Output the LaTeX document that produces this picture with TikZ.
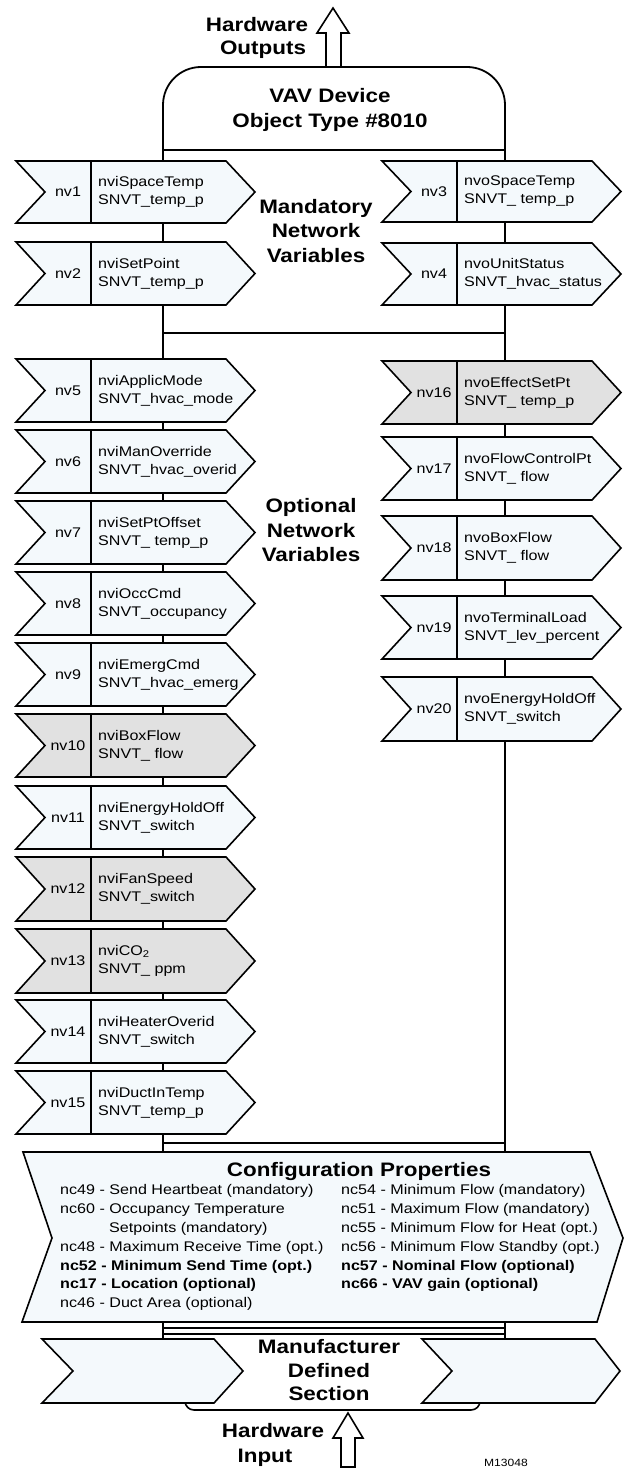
\documentclass[tikz,border=0pt]{standalone}
\usepackage{fontspec}
\setmainfont[FakeStretch=1.15]{Liberation Sans}
\definecolor{lite}{HTML}{F4F9FC}
\definecolor{gry}{HTML}{E1E1E1}
\tikzset{
  outl/.style={draw=black, line width=1.6pt, line join=miter},
  bus/.style={draw=black, line width=1.8pt},
  nvnum/.style={font=\fontsize{14}{17}\selectfont, inner sep=0pt},
  nvtxt/.style={font=\fontsize{14}{18}\selectfont, align=left, anchor=west, inner sep=0pt},
  bigt/.style={font=\bfseries\fontsize{19.5}{24}\selectfont, inner sep=0pt, anchor=base},
  cfgt/.style={font=\fontsize{14}{18}\selectfont, inner sep=0pt, anchor=base west},
  cfgb/.style={font=\bfseries\fontsize{14}{18}\selectfont, inner sep=0pt, anchor=base west},
  hollow/.style={draw=black, line width=1.6pt, fill=white, line join=miter},
}
\newcommand\nvshape[8]{%
  \pgfmathsetmacro\nvym{(#3+#4)/2}%
  \path[outl, fill=#5] (#2,#3) -- (#2+210,#3) -- (#2+239,\nvym) -- (#2+210,#4) -- (#2,#4) -- (#2+29,\nvym) -- cycle;
  \draw[outl] (#2+75,#3) -- (#2+75,#4);
  \node[nvnum] (#1n) at (#2+52,\nvym) {#6};
  \node[nvtxt] (#1) at (#2+82,\nvym) {#7\\#8};
}
\begin{document}
\begin{tikzpicture}[x=1pt,y=-1pt]
\fill[white] (0,0) rectangle (633,1474);
\useasboundingbox (0,0) rectangle (633,1474);

% hardware output arrow
\path[hollow] (326,68) -- (326,33) -- (317,33) -- (333,8) -- (349,33) -- (341,33) -- (341,68);
\node[bigt] (hwo1) at (257,32) {Hardware};
\node[bigt] (hwo2) at (263,55) {Outputs};

% header box
\draw[bus, rounded corners=38] (163,160) -- (163,67) -- (505,67) -- (505,160);
\node[bigt] (vav1) at (330,103) {VAV Device};
\node[bigt] (vav2) at (330,128) {Object Type \#8010};

% spines and buses
\draw[bus] (163,150) -- (163,1151);
\draw[bus] (505,150) -- (505,1151);
\draw[bus] (163,150) -- (505,150);
\draw[bus] (163,333) -- (505,333);
\draw[draw=black, line width=2.4pt] (163,1143) -- (505,1143);

% mandatory
\nvshape{nv1}{16}{161}{223}{lite}{nv1}{nviSpaceTemp}{SNVT\_temp\_p}
\nvshape{nv2}{16}{242}{305}{lite}{nv2}{nviSetPoint}{SNVT\_temp\_p}
\nvshape{nv3}{382}{161}{222}{lite}{nv3}{nvoSpaceTemp}{SNVT\_ temp\_p}
\nvshape{nv4}{382}{243}{305}{lite}{nv4}{nvoUnitStatus}{SNVT\_hvac\_status}
\node[bigt] (man1) at (316,213) {Mandatory};
\node[bigt] (man2) at (316,237) {Network};
\node[bigt] (man3) at (316,262) {Variables};

% optional left
\nvshape{nv5}{16}{359}{422}{lite}{nv5}{nviApplicMode}{SNVT\_hvac\_mode}
\nvshape{nv6}{16}{430}{493}{lite}{nv6}{nviManOverride}{SNVT\_hvac\_overid}
\nvshape{nv7}{16}{501}{564}{lite}{nv7}{nviSetPtOffset}{SNVT\_ temp\_p}
\nvshape{nv8}{16}{572}{635}{lite}{nv8}{nviOccCmd}{SNVT\_occupancy}
\nvshape{nv9}{16}{643}{706}{lite}{nv9}{nviEmergCmd}{SNVT\_hvac\_emerg}
\nvshape{nv10}{16}{714}{777}{gry}{nv10}{nviBoxFlow}{SNVT\_ flow}
\nvshape{nv11}{16}{786}{849}{lite}{nv11}{nviEnergyHoldOff}{SNVT\_switch}
\nvshape{nv12}{16}{857}{921}{gry}{nv12}{nviFanSpeed}{SNVT\_switch}
\nvshape{nv13}{16}{929}{993}{gry}{nv13}{nviCO\textsubscript{2}}{SNVT\_ ppm}
\nvshape{nv14}{16}{1000}{1063}{lite}{nv14}{nviHeaterOverid}{SNVT\_switch}
\nvshape{nv15}{16}{1071}{1134}{lite}{nv15}{nviDuctInTemp}{SNVT\_temp\_p}

% optional right
\nvshape{nv16}{382}{361}{424}{gry}{nv16}{nvoEffectSetPt}{SNVT\_ temp\_p}
\nvshape{nv17}{382}{437}{500}{lite}{nv17}{nvoFlowControlPt}{SNVT\_ flow}
\nvshape{nv18}{382}{516}{580}{lite}{nv18}{nvoBoxFlow}{SNVT\_ flow}
\nvshape{nv19}{382}{596}{659}{lite}{nv19}{nvoTerminalLoad}{SNVT\_lev\_percent}
\nvshape{nv20}{382}{677}{741}{lite}{nv20}{nvoEnergyHoldOff}{SNVT\_switch}
\node[bigt] (opt1) at (311,512) {Optional};
\node[bigt] (opt2) at (311,537) {Network};
\node[bigt] (opt3) at (311,561) {Variables};

% configuration properties
\path[outl, fill=lite] (23,1152) -- (590,1152) -- (623,1238) -- (597,1322) -- (22,1322) -- (52,1238) -- cycle;
\node[bigt] (cfg) at (359,1176) {Configuration Properties};
\node[cfgt] (c49) at (60,1194) {nc49 - Send Heartbeat (mandatory)};
\node[cfgt] (c60) at (60,1213) {nc60 - Occupancy Temperature};
\node[cfgt] (c60b) at (109,1232) {Setpoints (mandatory)};
\node[cfgt] (c48) at (60,1251) {nc48 - Maximum Receive Time (opt.)};
\node[cfgb] (c52) at (60,1270) {nc52 - Minimum Send Time (opt.)};
\node[cfgb] (c17) at (60,1288) {nc17 - Location (optional)};
\node[cfgt] (c46) at (60,1307) {nc46 - Duct Area (optional)};
\node[cfgt] (c54) at (341,1194) {nc54 - Minimum Flow (mandatory)};
\node[cfgt] (c51) at (341,1213) {nc51 - Maximum Flow (mandatory)};
\node[cfgt] (c55) at (341,1232) {nc55 - Minimum Flow for Heat (opt.)};
\node[cfgt] (c56) at (341,1251) {nc56 - Minimum Flow Standby (opt.)};
\node[cfgb] (c57) at (341,1270) {nc57 - Nominal Flow (optional)};
\node[cfgb] (c66) at (341,1288) {nc66 - VAV gain (optional)};

% bus to manufacturer section
\draw[bus] (163,1322) -- (163,1339);
\draw[bus] (505,1322) -- (505,1339);
\draw[draw=black, line width=1.2pt] (163,1328) -- (505,1328);
\draw[draw=black, line width=2.2pt] (163,1334) -- (505,1334);

% manufacturer section
\path[fill=white] (185,1339) rectangle (480,1410);
\draw[outl, rounded corners=9] (185,1380) -- (185,1410) -- (480,1410) -- (480,1380);
\path[outl, fill=lite] (42,1339) -- (214,1339) -- (243,1371) -- (214,1403) -- (42,1403) -- (73,1371) -- cycle;
\path[outl, fill=lite] (422,1339) -- (595,1339) -- (620,1371) -- (595,1403) -- (422,1403) -- (452,1371) -- cycle;
\node[bigt] (mfr1) at (329,1353) {Manufacturer};
\node[bigt] (mfr2) at (329,1377) {Defined};
\node[bigt] (mfr3) at (329,1400) {Section};

% hardware input arrow
\path[hollow] (341,1467) -- (341,1438) -- (333,1438) -- (348,1413) -- (363,1438) -- (355,1438) -- (355,1467) -- cycle;
\node[bigt] (hwi1) at (273,1437) {Hardware};
\node[bigt] (hwi2) at (265,1462) {Input};
\node[font=\fontsize{10.5}{12}\selectfont, inner sep=0pt, anchor=base] (mid) at (506,1466) {M13048};
\end{tikzpicture}
\end{document}
